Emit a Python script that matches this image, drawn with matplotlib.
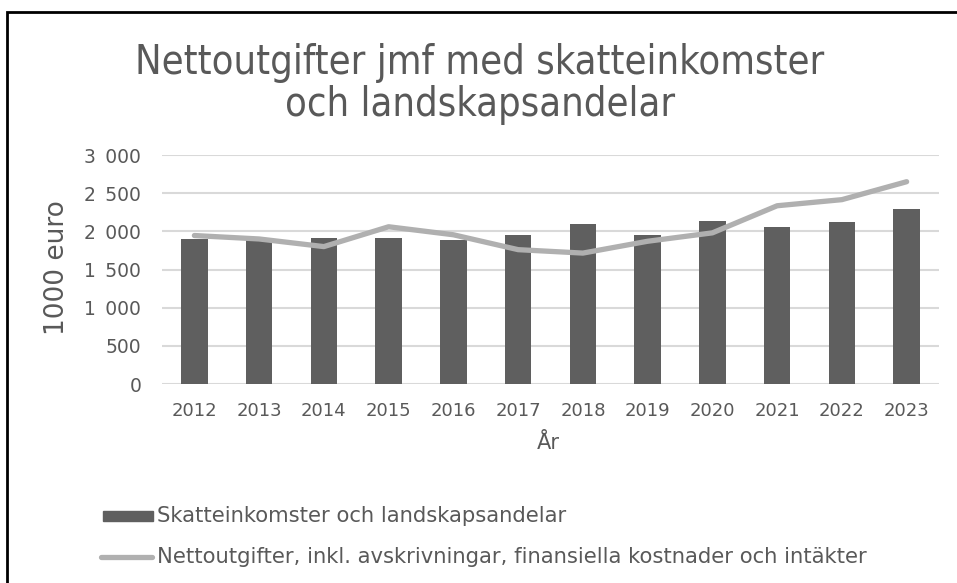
import matplotlib
matplotlib.use("Agg")
import matplotlib.pyplot as plt
from matplotlib.patches import Rectangle
from matplotlib.lines import Line2D
from matplotlib.ticker import FuncFormatter

years = ["2012", "2013", "2014", "2015", "2016", "2017",
         "2018", "2019", "2020", "2021", "2022", "2023"]
skatteinkomster = [1900, 1880, 1915, 1915, 1890, 1950,
                   2100, 1950, 2135, 2055, 2125, 2290]
nettoutgifter = [1945, 1900, 1800, 2060, 1955, 1760,
                 1715, 1870, 1980, 2335, 2415, 2650]

TXT = "#595959"
BAR = "#5f5f5f"
LINE = "#b0b0b0"
W, H = 957, 583

fig = plt.figure(figsize=(W / 100, H / 100), dpi=100)
ax = fig.add_axes([162 / W, 1 - 384 / H, (939 - 162) / W, (384 - 155) / H])

x = list(range(len(years)))
ax.bar(x, skatteinkomster, width=0.41, color=BAR, zorder=2)
ax.plot(x, nettoutgifter, color=LINE, lw=3.8, solid_capstyle="round", zorder=3)

ax.set_xlim(-0.5, len(years) - 0.5)
ax.set_ylim(0, 3000)
ax.set_yticks(range(0, 3001, 500))
# thousands separated by a wide space, as in the original
ax.yaxis.set_major_formatter(FuncFormatter(lambda v, p: f"{int(v):,}".replace(",", "\u2002")))
ax.set_xticks(x)
ax.set_xticklabels(years)
ax.grid(axis="y", color="#d9d9d9", lw=1.5, zorder=0)
ax.set_axisbelow(True)
for s in ax.spines.values():
    s.set_visible(False)
ax.tick_params(length=0, colors=TXT)
ax.tick_params(axis="y", labelsize=13.5, pad=15)
ax.tick_params(axis="x", labelsize=13, pad=13)

fig.text(57 / W, 1 - 268 / H, "1000 euro", rotation=90, ha="center", va="center",
         fontsize=19, color=TXT)
fig.text(548 / W, 1 - 443 / H, "År", ha="center", va="center", fontsize=15, color=TXT)
fig.text(480 / W, 1 - 84 / H, "Nettoutgifter jmf med skatteinkomster\noch landskapsandelar",
         ha="center", va="center", fontsize=28.5, color=TXT, linespacing=1.08,
         fontstretch="condensed")

# legend drawn by hand at the bottom left
fig.add_artist(Rectangle((103 / W, 1 - 521 / H), 50 / W, 10 / H, transform=fig.transFigure,
                         color=BAR))
fig.text(157 / W, 1 - 516 / H, "Skatteinkomster och landskapsandelar", va="center",
         fontsize=15.2, color=TXT)
fig.add_artist(Line2D([101 / W, 152 / W], [1 - 557 / H] * 2, transform=fig.transFigure,
                      color=LINE, lw=3.8, solid_capstyle="round"))
fig.text(157 / W, 1 - 557 / H,
         "Nettoutgifter, inkl. avskrivningar, finansiella kostnader och intäkter",
         va="center", fontsize=15.2, color=TXT)

# black frame, cut off at right and bottom
fig.add_artist(Rectangle((7 / W, -0.05), 1.0, 1 - 12 / H + 0.05, transform=fig.transFigure,
                         fill=False, ec="black", lw=2))

fig.savefig("out.png", dpi=100)
